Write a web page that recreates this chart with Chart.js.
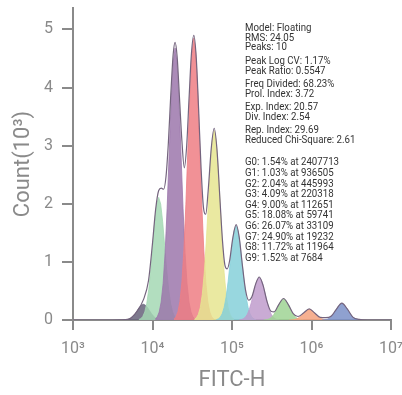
<!DOCTYPE html>
<html>
<head>
<meta charset="utf-8">
<script src="https://cdn.jsdelivr.net/npm/chart.js@4.4.1/dist/chart.umd.min.js"></script>
<style>
  html, body { margin: 0; padding: 0; background: #ffffff; }
  #wrap { width: 402px; height: 395px; }
</style>
</head>
<body>
<div id="wrap"><canvas id="c" width="402" height="395"></canvas></div>
<script>
// ---------- DATA ----------
const CATEGORIES = ['G0', 'G1', 'G2', 'G3', 'G4', 'G5', 'G6', 'G7', 'G8', 'G9'];
const PEAK_POS = [2407713, 936505, 445993, 220318, 112651, 59741, 33109, 19232, 11964, 7684];
const PEAK_PCT = [1.54, 1.03, 2.04, 4.09, 9.00, 18.08, 26.07, 24.90, 11.72, 1.52];

// sample offsets (decades) around each peak position
const PEAK_OFFSETS = [-0.25, -0.225, -0.2, -0.175, -0.15, -0.125, -0.1, -0.075, -0.05, -0.025, 0,
                      0.025, 0.05, 0.075, 0.1, 0.125, 0.15, 0.175, 0.2, 0.225, 0.25];

// component counts (x10^3) at those offsets
const G0_COUNTS = [0.001,0.003,0.008,0.018,0.038,0.070,0.115,0.170,0.224,0.265,0.280,0.265,0.224,0.170,0.115,0.070,0.038,0.018,0.008,0.003,0.001];
const G1_COUNTS = [0.001,0.002,0.005,0.012,0.024,0.045,0.074,0.109,0.144,0.170,0.180,0.170,0.144,0.109,0.074,0.045,0.024,0.012,0.005,0.002,0.001];
const G2_COUNTS = [0.001,0.004,0.010,0.024,0.049,0.090,0.148,0.219,0.288,0.341,0.360,0.341,0.288,0.219,0.148,0.090,0.049,0.024,0.010,0.004,0.001];
const G3_COUNTS = [0.003,0.008,0.021,0.048,0.099,0.182,0.300,0.443,0.585,0.691,0.730,0.691,0.585,0.443,0.300,0.182,0.099,0.048,0.021,0.008,0.003];
const G4_COUNTS = [0.006,0.018,0.047,0.107,0.219,0.403,0.666,0.983,1.298,1.533,1.620,1.533,1.298,0.983,0.666,0.403,0.219,0.107,0.047,0.018,0.006];
const G5_COUNTS = [0.013,0.036,0.095,0.215,0.440,0.812,1.340,1.979,2.611,3.084,3.260,3.084,2.611,1.979,1.340,0.812,0.440,0.215,0.095,0.036,0.013];
const G6_COUNTS = [0.019,0.053,0.141,0.320,0.655,1.208,1.993,2.944,3.885,4.588,4.850,4.588,3.885,2.944,1.993,1.208,0.655,0.320,0.141,0.053,0.019];
const G7_COUNTS = [0.019,0.051,0.136,0.309,0.632,1.165,1.923,2.841,3.749,4.427,4.680,4.427,3.749,2.841,1.923,1.165,0.632,0.309,0.136,0.051,0.019];
const G8_COUNTS = [0.008,0.023,0.061,0.139,0.285,0.525,0.867,1.281,1.690,1.996,2.110,1.996,1.690,1.281,0.867,0.525,0.285,0.139,0.061,0.023,0.008];
const G9_COUNTS = [0.001,0.003,0.008,0.018,0.036,0.067,0.111,0.164,0.216,0.255,0.270,0.255,0.216,0.164,0.111,0.067,0.036,0.018,0.008,0.003,0.001];
const COMPONENT_COUNTS = [G0_COUNTS, G1_COUNTS, G2_COUNTS, G3_COUNTS, G4_COUNTS, G5_COUNTS, G6_COUNTS, G7_COUNTS, G8_COUNTS, G9_COUNTS];

// overall histogram envelope: log10(FITC-H) and count (x10^3)
const ENV_LOG = [3.0, 3.5, 3.6, 3.7, 3.8, 3.886, 3.95, 4.0, 4.04, 4.078, 4.11, 4.14, 4.17, 4.2, 4.23, 4.26, 4.284, 4.31, 4.34, 4.37,
                 4.4, 4.43, 4.46, 4.49, 4.52, 4.55, 4.58, 4.61, 4.64, 4.67, 4.7, 4.74, 4.776, 4.81, 4.85, 4.88, 4.91, 4.94, 4.97, 5.01,
                 5.052, 5.09, 5.13, 5.17, 5.21, 5.25, 5.3, 5.343, 5.39, 5.44, 5.49, 5.53, 5.59, 5.649, 5.71, 5.77, 5.83, 5.9, 5.971, 6.04,
                 6.11, 6.18, 6.25, 6.31, 6.382, 6.45, 6.52, 6.6, 6.7, 7.0];
const ENV_COUNT = [0, 0, 0.003, 0.015, 0.14, 0.35, 0.68, 1.32, 1.91, 2.23, 2.27, 2.25, 2.47, 3.06, 3.88, 4.57, 4.78, 4.53, 3.81, 3.08,
                   2.62, 3.0, 3.82, 4.59, 4.9, 4.52, 3.63, 2.64, 1.95, 1.82, 2.22, 2.97, 3.3, 2.95, 2.04, 1.37, 0.95, 0.88, 1.02, 1.41,
                   1.64, 1.43, 0.95, 0.52, 0.34, 0.4, 0.63, 0.74, 0.6, 0.32, 0.15, 0.14, 0.27, 0.37, 0.26, 0.11, 0.06, 0.12, 0.19, 0.12,
                   0.045, 0.04, 0.07, 0.18, 0.29, 0.19, 0.05, 0.01, 0, 0];

const X_TICKS = [1e3, 1e4, 1e5, 1e6, 1e7];
const X_TICK_LABELS = ['10\u00B3', '10\u2074', '10\u2075', '10\u2076', '10\u2077'];
const Y_TICKS = [0, 1, 2, 3, 4, 5];
const X_TITLE = 'FITC-H';
const Y_TITLE = 'Count(10\u00B3)';

const STAT_GROUPS = [
  ['Model: Floating', 'RMS: 24.05', 'Peaks: 10'],
  ['Peak Log CV: 1.17%', 'Peak Ratio: 0.5547'],
  ['Freq Divided: 68.23%', 'Prol. Index: 3.72'],
  ['Exp. Index: 20.57', 'Div. Index: 2.54'],
  ['Rep. Index: 29.69', 'Reduced Chi-Square: 2.61']
];

// ---------- STYLE ----------
const COLORS = ['#7b90c8', '#f5a27e', '#9fd494', '#bf9ccd', '#86d0d9', '#e6e590', '#ef7e84', '#9c77ac', '#a5d8b4', '#66627a'];
function rgba(hex, a) {
  const n = parseInt(hex.slice(1), 16);
  return `rgba(${(n >> 16) & 255},${(n >> 8) & 255},${n & 255},${a})`;
}
const AXIS_COLOR = '#8a8a8a';

// ---------- BUILD ----------
const componentSets = CATEGORIES.map((name, i) => ({
  label: name,
  data: PEAK_OFFSETS.map((o, k) => ({ x: Math.pow(10, Math.log10(PEAK_POS[i]) + o), y: COMPONENT_COUNTS[i][k] })),
  backgroundColor: rgba(COLORS[i], 0.85),
  borderColor: rgba(COLORS[i], 1),
  borderWidth: 0.8,
  fill: 'origin',
  pointRadius: 0,
  tension: 0
}));

const envelopeSet = {
  label: 'Histogram',
  data: ENV_LOG.map((l, k) => ({ x: Math.pow(10, l), y: ENV_COUNT[k] })),
  borderColor: '#74647e',
  borderWidth: 1.2,
  fill: false,
  pointRadius: 0,
  cubicInterpolationMode: 'monotone'
};

const statsPlugin = {
  id: 'stats',
  afterDraw(chart) {
    const ctx = chart.ctx;
    ctx.save();
    ctx.font = '11px Roboto';
    ctx.fillStyle = '#333333';
    ctx.textBaseline = 'middle';
    ctx.textAlign = 'left';
    const x0 = 245;
    const sx = 0.88;
    ctx.translate(x0, 0);
    ctx.scale(sx, 1);
    let y = 28.5;
    STAT_GROUPS.forEach(group => {
      group.forEach(line => { ctx.fillText(line, 0, y); y += 9.6; });
      y += 3.9;
    });
    const gLines = CATEGORIES.map((c, i) => `${c}: ${PEAK_PCT[i].toFixed(2)}% at ${PEAK_POS[i]}`);
    let gy = 162.6;
    gLines.forEach(line => { ctx.fillText(line, 0, gy); gy += 10.6; });
    ctx.restore();
  }
};

new Chart(document.getElementById('c'), {
  type: 'line',
  data: { datasets: [envelopeSet, ...componentSets] },
  options: {
    responsive: false,
    animation: false,
    devicePixelRatio: 1,
    layout: { padding: { top: 8, right: 11, left: 0, bottom: 0 } },
    plugins: { legend: { display: false }, tooltip: { enabled: false } },
    scales: {
      x: {
        type: 'logarithmic',
        min: 1e3,
        max: 1e7,
        afterBuildTicks: s => { s.ticks = X_TICKS.map(v => ({ value: v })); },
        afterFit: s => { s.height = 75; s.paddingLeft = 0; s.paddingRight = 0; },
        ticks: {
          autoSkip: false, maxRotation: 0, color: AXIS_COLOR, padding: 9,
          font: { family: 'Roboto', size: 16 },
          callback: v => X_TICK_LABELS[X_TICKS.indexOf(v)]
        },
        grid: { drawOnChartArea: false, drawTicks: true, tickLength: 10, color: AXIS_COLOR, lineWidth: 2 },
        border: { display: true, color: AXIS_COLOR, width: 2 },
        title: { display: true, text: X_TITLE, color: AXIS_COLOR, font: { family: 'Roboto', size: 22 }, padding: { top: 0, bottom: 1 } }
      },
      y: {
        min: 0,
        max: 5.37,
        afterBuildTicks: s => { s.ticks = Y_TICKS.map(v => ({ value: v })); },
        afterFit: s => { s.width = 73; s.paddingTop = 0; s.paddingBottom = 0; },
        ticks: { color: AXIS_COLOR, padding: 9, font: { family: 'Roboto', size: 16 } },
        grid: { drawOnChartArea: false, drawTicks: true, tickLength: 11, color: AXIS_COLOR, lineWidth: 2 },
        border: { display: true, color: AXIS_COLOR, width: 2 },
        title: { display: true, text: Y_TITLE, color: AXIS_COLOR, font: { family: 'Roboto', size: 22 }, padding: { top: 10, bottom: 0 } }
      }
    }
  },
  plugins: [statsPlugin]
});
</script>
</body>
</html>
